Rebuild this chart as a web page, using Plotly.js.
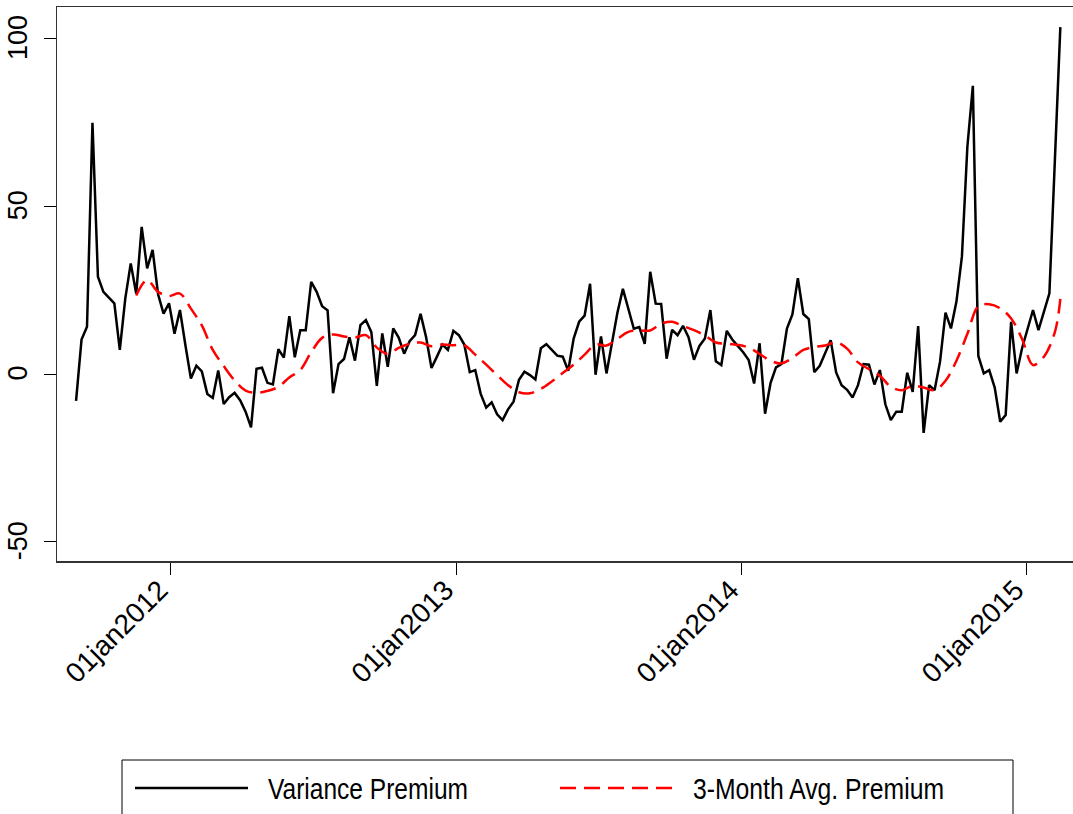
<!DOCTYPE html>
<html>
<head>
<meta charset="utf-8">
<script src="https://cdn.plot.ly/plotly-3.0.1.min.js"></script>
<style>
html,body{margin:0;padding:0;background:#fff;}
#chart{width:1073px;height:814px;}
</style>
</head>
<body>
<div id="chart"></div>
<script>
// Weekly observations (Fridays), first week:
const firstWeek = [2011, 8, 2];   // 2011-09-02 (month index 8 = September)
const weekCount = 181;

// Variance Premium, one value per week
const variancePremium = [
  -8.0, 10.3, 14.1, 74.9, 29.0, 24.5, 22.8, 21.1, 7.2, 22.5,
  33.0, 24.0, 43.9, 31.5, 37.0, 23.8, 18.0, 21.1, 12.0, 19.1,
  8.6, -1.3, 2.5, 0.8, -5.9, -7.1, 1.1, -8.9, -6.9, -5.6,
  -7.8, -11.2, -15.9, 1.6, 1.9, -2.6, -3.1, 7.4, 4.9, 17.3,
  5.0, 13.1, 13.1, 27.5, 24.5, 20.2, 19.0, -5.7, 3.0, 4.5,
  11.0, 4.0, 14.6, 16.1, 12.5, -3.5, 12.1, 2.2, 13.6, 10.9,
  6.1, 9.8, 11.6, 18.0, 11.1, 1.8, 5.2, 8.8, 7.2, 12.9,
  11.6, 8.8, 0.6, 1.2, -5.9, -10.0, -8.4, -12.0, -13.7, -10.5,
  -8.2, -1.7, 0.7, -0.3, -1.6, 7.7, 8.9, 7.2, 5.5, 5.2,
  1.0, 10.6, 15.6, 17.4, 26.9, -0.2, 11.2, 0.2, 9.6, 18.3,
  25.4, 19.0, 13.5, 14.0, 9.0, 30.5, 21.0, 20.9, 4.6, 13.2,
  11.6, 14.4, 11.0, 4.3, 8.4, 10.6, 19.1, 3.8, 2.7, 12.9,
  10.3, 8.4, 6.5, 4.2, -2.8, 9.2, -11.8, -2.7, 2.0, 3.0,
  13.6, 17.8, 28.6, 17.9, 16.4, 0.6, 2.5, 6.3, 10.1, 0.5,
  -3.3, -4.7, -7.0, -3.3, 3.0, 2.8, -3.1, 1.2, -9.0, -13.7,
  -11.2, -11.2, 0.4, -5.3, 14.3, -17.5, -3.3, -4.8, 3.7, 18.3,
  13.6, 21.6, 35.0, 67.8, 85.9, 5.4, 0.2, 1.2, -4.0, -14.2,
  -12.2, 15.6, 0.2, 7.7, 13.1, 19.1, 13.1, 18.6, 24.1, 63.7,
  103.4
];

// 3-Month Avg. Premium, read every other week (null = not read)
const avgPremium = [
  null, null, null, null, null, null, null, null, null, null,
  null, 23.4, null, 28.0, null, 24.5, null, 23.3, null, 24.0,
  null, 19.5, null, 14.5, null, 7.2, null, 2.4, null, -1.9,
  null, -4.9, null, -5.6, null, -5.0, null, -3.8, null, -1.0,
  null, 1.2, null, 6.5, null, 10.8, null, 11.8, null, 11.2,
  null, 10.9, null, 11.6, null, 7.9, null, 6.0, null, 7.8,
  null, 9.0, null, 9.4, null, 8.3, null, 8.8, null, 8.6,
  null, 8.6, null, 5.8, null, 2.8, null, -0.3, null, -3.3,
  null, -5.4, null, -5.7, null, -4.4, null, -2.2, null, 0.3,
  null, 2.8, null, 5.8, null, 8.8, null, 8.5, null, 10.5,
  null, 12.6, null, 13.0, null, 13.0, null, 15.0, null, 15.6,
  null, 14.3, null, 13.1, null, 11.5, null, 9.4, null, 9.1,
  null, 8.7, null, 7.9, null, 6.0, null, 4.0, null, 3.2,
  null, 4.8, null, 7.2, null, 8.1, null, 8.5, null, 9.5,
  null, 7.6, null, 3.5, null, 1.5, null, -0.5, null, -3.8,
  null, -4.8, null, -3.5, null, -4.0, null, -4.8, null, -2.0,
  null, 4.0, null, 12.0, null, 20.2, null, 20.8, null, 19.6,
  null, 16.6, null, 10.5, null, 2.7, null, 5.2, null, 12.5,
  22.4
];

const tickDates  = ['2012-01-01', '2013-01-01', '2014-01-01', '2015-01-01'];
const tickLabels = ['01jan2012', '01jan2013', '01jan2014', '01jan2015'];
const yTicks     = [-50, 0, 50, 100];
const seriesNames = ['Variance Premium', '3-Month Avg. Premium'];

// build weekly date labels
const weekDates = [];
for (let i = 0; i < weekCount; i++) {
  const d = new Date(Date.UTC(firstWeek[0], firstWeek[1], firstWeek[2]) + i * 7 * 86400000);
  weekDates.push(d.toISOString().slice(0, 10));
}

const FONT = 'Liberation Sans, Arial, sans-serif';

// pixel -> paper helpers for the legend box
const L = 57, R = 0, T = 7, B = 253, W = 1073, H = 814;
const pw = W - L - R, ph = H - T - B;
const px = v => (v - L) / pw;
const py = v => (H - B - v) / ph;

const traces = [
  {
    x: weekDates, y: variancePremium, type: 'scatter', mode: 'lines',
    name: seriesNames[0], showlegend: false,
    line: {color: '#000000', width: 2.5}
  },
  {
    x: weekDates, y: avgPremium, type: 'scatter', mode: 'lines',
    name: seriesNames[1], showlegend: false, connectgaps: true,
    line: {color: '#ff0000', width: 2.5, dash: '16px,8px', shape: 'spline', smoothing: 1}
  }
];

const layout = {
  width: W, height: H,
  margin: {l: L, r: R, t: T, b: B, pad: 0},
  paper_bgcolor: '#ffffff', plot_bgcolor: '#ffffff',
  font: {family: FONT, color: '#000000', size: 28},
  showlegend: false,
  xaxis: {
    type: 'date',
    range: ['2011-08-08 14:24', '2015-03-01 05:00'],
    tickmode: 'array', tickvals: tickDates, ticktext: tickLabels,
    tickangle: -45, ticks: 'outside', ticklen: 12, tickwidth: 1.2, tickcolor: '#000',
    showline: true, linecolor: '#333', linewidth: 1.5, mirror: true,
    showgrid: false, zeroline: false,
    tickfont: {family: FONT, size: 28, color: '#000'},
    ticklabelstandoff: -12, ticklabelshift: -11
  },
  yaxis: {
    range: [-55.7, 109.4],
    tickmode: 'array', tickvals: yTicks, ticktext: yTicks.map(String),
    tickangle: -90, ticks: 'outside', ticklen: 12, tickwidth: 1.2, tickcolor: '#000',
    showline: true, linecolor: '#333', linewidth: 1.5,
    showgrid: false, zeroline: false,
    tickfont: {family: FONT, size: 27, color: '#000'},
    ticklabelstandoff: 6, ticklabelshift: 3
  },
  shapes: [
    {type: 'rect', xref: 'paper', yref: 'paper',
     x0: px(122), x1: px(1013), y0: py(760), y1: py(840),
     line: {color: '#000', width: 1}, fillcolor: 'rgba(0,0,0,0)'},
    {type: 'line', xref: 'paper', yref: 'paper',
     x0: px(135), x1: px(248), y0: py(788), y1: py(788),
     line: {color: '#000', width: 2.5}},
    {type: 'line', xref: 'paper', yref: 'paper',
     x0: px(560), x1: px(676), y0: py(788), y1: py(788),
     line: {color: '#ff0000', width: 2.5, dash: '16px,8px'}}
  ],
  annotations: [
    {xref: 'paper', yref: 'paper', x: px(268), y: py(789), xanchor: 'left', yanchor: 'middle',
     showarrow: false, text: seriesNames[0], font: {family: FONT, size: 29, color: '#000'}},
    {xref: 'paper', yref: 'paper', x: px(693), y: py(789), xanchor: 'left', yanchor: 'middle',
     showarrow: false, text: seriesNames[1], font: {family: FONT, size: 29, color: '#000'}}
  ]
};

// narrow (condensed) legend lettering like the original's typeface
const legendText = [{left: 268, len: 200}, {left: 693, len: 251}];

Plotly.newPlot('chart', traces, layout, {displayModeBar: false, staticPlot: true}).then(gd => {
  const gr = gd.getBoundingClientRect();
  gd.querySelectorAll('.annotation-text').forEach((el, i) => {
    const t = legendText[i];
    if (!t) return;
    el.setAttribute('textLength', t.len);
    el.setAttribute('lengthAdjust', 'spacingAndGlyphs');
    const r = el.getBoundingClientRect();
    const dx = (gr.left + t.left) - r.left;
    el.setAttribute('x', (parseFloat(el.getAttribute('x')) || 0) + dx);
  });
});
</script>
</body>
</html>
